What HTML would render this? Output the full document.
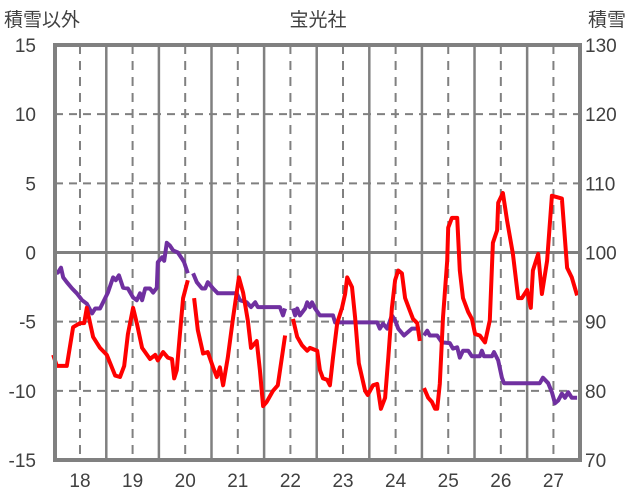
<!DOCTYPE html>
<html><head><meta charset="utf-8">
<style>
html,body{margin:0;padding:0;background:#fff;}
svg{display:block;}
text{font-family:"Liberation Sans","Noto Sans CJK JP",sans-serif;fill:#404040;}
</style></head>
<body>
<svg id="chart" width="636" height="501" viewBox="0 0 636 501" xmlns="http://www.w3.org/2000/svg">
<text x="318" y="26" font-size="19" text-anchor="middle">宝光社</text>
<text x="4" y="26" font-size="19">積雪以外</text>
<text x="588" y="26" font-size="19">積雪</text>
<g id="grid"></g>
<g id="series"></g>
<g id="ticks"></g>
<rect x="55" y="45" width="525" height="415" fill="none" stroke="#808080" stroke-width="4"/>
</svg>
<script>
const xTicks = [18,19,20,21,22,23,24,25,26,27];
const leftTicks = [15,10,5,0,-5,-10,-15];
const rightTicks = [130,120,110,100,90,80,70];
// red series (left axis), null = gap
const redT = [17.49,17.56,17.75,17.87,18.00,18.08,18.13,18.25,18.38,18.51,18.67,18.76,18.84,18.91,19.01,19.08,19.18,19.33,19.43,19.48,19.58,19.67,19.75,19.79,19.84,19.90,19.96,20.05,null,
20.17,20.24,20.34,20.43,20.53,20.60,20.66,20.72,20.81,20.91,21.02,21.10,21.19,21.25,21.36,21.42,21.48,21.55,21.67,21.76,21.90,null,
22.05,22.13,22.22,22.32,22.37,22.51,22.56,22.62,22.70,22.75,22.81,22.89,22.98,23.04,23.08,23.17,23.23,23.30,23.42,23.47,23.57,23.65,23.72,23.80,23.86,23.93,23.99,24.05,24.12,24.18,24.27,24.33,24.41,24.46,null,
24.54,24.62,24.69,24.75,24.79,24.84,24.90,24.98,25.00,25.07,25.17,25.22,25.28,25.38,25.45,25.51,25.60,25.70,25.79,25.85,25.93,25.95,26.04,26.12,26.23,26.33,26.40,26.50,26.57,26.61,26.71,26.78,26.88,26.97,27.07,27.16,27.26,27.35,27.45];
const redV = [-7.4,-8.2,-8.2,-5.4,-5.1,-5.1,-4.0,-6.1,-6.9,-7.4,-8.9,-9.0,-8.2,-5.9,-4.0,-5.1,-6.9,-7.7,-7.4,-7.8,-7.2,-7.6,-7.7,-9.1,-8.5,-5.9,-3.3,-2.0,null,
-3.3,-5.6,-7.3,-7.2,-8.3,-9.0,-8.3,-9.6,-7.6,-4.7,-1.8,-2.9,-4.9,-6.9,-6.4,-8.5,-11.1,-10.8,-10.0,-9.6,-6.0,null,
-4.8,-6.1,-6.7,-7.1,-6.9,-7.1,-8.5,-9.1,-9.2,-9.6,-7.6,-5.1,-4.0,-3.0,-1.8,-2.5,-4.7,-8.0,-10.0,-10.3,-9.6,-9.5,-11.3,-10.5,-7.6,-4.0,-2.0,-1.3,-1.5,-3.3,-4.2,-4.8,-5.1,-6.4,null,
-9.8,-10.5,-10.8,-11.3,-11.3,-9.5,-4.7,-0.6,1.8,2.5,2.5,-1.3,-3.3,-4.3,-4.8,-5.9,-6.0,-6.5,-4.9,0.7,1.6,3.6,4.3,2.3,-0.1,-3.3,-3.3,-2.7,-4.0,-1.3,-0.1,-3.0,-0.6,4.1,4.0,3.9,-1.1,-1.8,-3.1];
// purple series (right axis)
const snowT = [17.49,17.58,17.64,17.68,17.75,17.85,17.94,18.04,18.13,18.23,18.29,18.38,18.44,18.53,18.63,18.68,18.74,18.82,18.91,19.01,19.08,19.14,19.18,19.24,19.33,19.39,19.46,19.48,19.56,19.60,19.65,19.71,19.77,19.86,19.94,19.98,20.05,null,
20.15,20.22,20.32,20.38,20.43,20.53,20.62,20.98,21.04,21.17,21.25,21.33,21.38,21.80,21.86,21.90,null,
22.05,22.09,22.13,22.18,22.28,22.32,22.37,22.41,22.47,22.56,22.81,22.85,23.65,23.70,23.76,23.84,23.93,23.99,24.05,24.16,24.31,24.46,null,
24.54,24.60,24.65,24.79,24.88,25.03,25.09,25.17,25.22,25.28,25.38,25.45,25.60,25.64,25.68,25.83,25.87,25.95,26.02,26.06,26.74,26.80,26.90,26.97,27.03,27.09,27.16,27.22,27.28,27.35,27.45];
const snowV = [97.0,97.1,97.8,96.4,95.7,94.8,94.1,93.1,92.6,91.2,91.9,91.9,92.8,94.2,96.4,96.0,96.7,94.9,94.8,93.5,93.1,94.1,93.1,94.8,94.8,94.2,94.9,98.6,99.3,98.8,101.4,101.0,100.3,100.0,99.1,98.6,97.0,null,
97.0,95.7,94.8,94.8,95.7,94.8,94.1,94.1,93.1,92.8,92.1,92.8,92.1,92.1,90.9,91.9,null,
91.9,90.9,91.9,90.9,91.9,92.8,92.1,92.8,91.9,90.9,90.9,89.9,89.9,89.0,89.7,89.0,90.9,90.2,89.0,88.0,89.0,89.0,null,
88.0,88.7,88.0,88.0,87.0,86.9,86.1,86.3,84.8,85.8,85.8,85.0,85.0,85.8,85.0,85.0,85.6,84.4,81.9,81.1,81.1,81.9,81.1,79.8,78.2,78.6,79.6,79.0,79.8,79.0,79.0];

const L=55,R=580,T=45,B=460;
const X0=17.525,X1=27.505;
function sx(t){return L+(t-X0)/(X1-X0)*(R-L);}
function syL(v){return T+(15-v)/30*(B-T);}
function syR(v){return T+(130-v)/60*(B-T);}
const NS='http://www.w3.org/2000/svg';
function mk(tag,attrs,parent){const e=document.createElementNS(NS,tag);for(const k in attrs)e.setAttribute(k,attrs[k]);parent.appendChild(e);return e;}
const grid=document.getElementById('grid'),ticks=document.getElementById('ticks'),series=document.getElementById('series');
leftTicks.forEach((v,i)=>{
  const y=syL(v);
  if(v!==15&&v!==-15){
    const ln=mk('line',{x1:L,x2:R,y1:y,y2:y,stroke:'#808080','stroke-width':v===0?3:2,'stroke-dasharray':v===0?'none':'8,6'},grid);
    
    
  }
  const t=mk('text',{x:36,y:y+7,'font-size':19,'text-anchor':'end'},ticks);t.textContent=v;
  
  
  const t2=mk('text',{x:585,y:y+7,'font-size':19},ticks);t2.textContent=rightTicks[i];
  
  
});
xTicks.forEach(k=>{
  const x=sx(k);
  const d=mk('line',{x1:x,x2:x,y1:T,y2:B,stroke:'#808080','stroke-width':2,'stroke-dasharray':'9,7'},grid);
  
  
  if(k<27){const xs=sx(k+0.5);
    const s=mk('line',{x1:xs,x2:xs,y1:T,y2:B,stroke:'#808080','stroke-width':2.5},grid);
    
    }
  const t=mk('text',{x:x,y:487,'font-size':19,'text-anchor':'middle'},ticks);t.textContent=k;
  
  
});
function path(ts,vs,sy){let d='',pen=false;for(let i=0;i<ts.length;i++){if(ts[i]===null||vs[i]===null){pen=false;continue;}d+=(pen?'L':'M')+sx(ts[i]).toFixed(1)+','+sy(vs[i]).toFixed(1);pen=true;}return d;}
const p1=mk('path',{d:path(snowT,snowV,syR),fill:'none',stroke:'#7030A0','stroke-width':4,'stroke-linejoin':'round'},series);


const p2=mk('path',{d:path(redT,redV,syL),fill:'none',stroke:'#FF0000','stroke-width':4,'stroke-linejoin':'round'},series);


</script>
</body></html>
